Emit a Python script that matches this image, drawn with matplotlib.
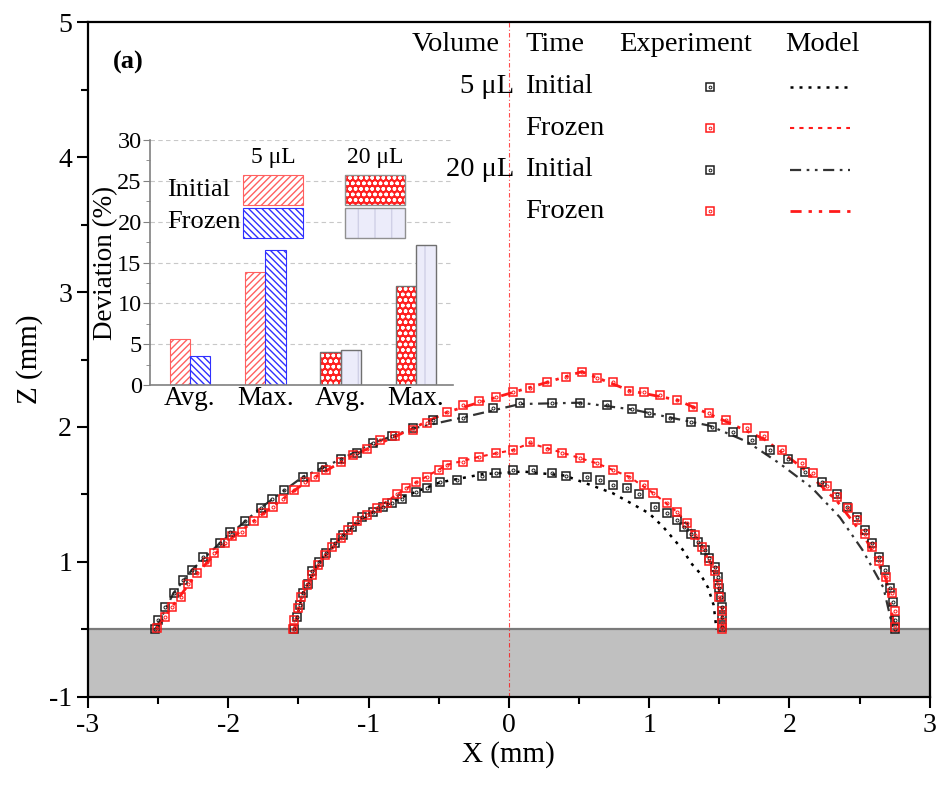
"""
Droplet profiles (experiment vs model) with deviation inset.
"""

import matplotlib.pyplot as plt
from matplotlib.patches import Rectangle

plt.rcParams['font.family'] = ['Liberation Serif', 'DejaVu Serif']
plt.rcParams['axes.unicode_minus'] = False

# colours
RED = '#ff1a1a'
DARK = '#1e1e1e'
GREY_SUB = '#c0c0c0'

# ---- experiment: 5 uL initial ----
e5i_x = [-1.53, -1.51, -1.49, -1.47, -1.43, -1.40, -1.35, -1.30, -1.24, -1.18, -1.12,
         -1.05, -0.97, -0.90, -0.83, -0.76, -0.66, -0.58, -0.49, -0.37, -0.19, -0.09,
         0.03, 0.17, 0.31, 0.41, 0.56, 0.65, 0.74, 0.84, 0.93, 1.04, 1.13, 1.20, 1.25,
         1.30, 1.35, 1.40, 1.43, 1.47, 1.49, 1.50, 1.51, 1.52, 1.52, 1.52]
e5i_z = [0.50, 0.59, 0.68, 0.77, 0.84, 0.93, 1.00, 1.07, 1.14, 1.20, 1.26,
         1.33, 1.37, 1.41, 1.44, 1.47, 1.52, 1.55, 1.59, 1.61, 1.64, 1.66,
         1.68, 1.68, 1.66, 1.64, 1.63, 1.61, 1.57, 1.55, 1.50, 1.41, 1.36, 1.31, 1.26,
         1.21, 1.15, 1.09, 1.03, 0.96, 0.89, 0.81, 0.74, 0.67, 0.59, 0.52]

# ---- experiment: 5 uL frozen ----
e5f_x = [-1.54, -1.53, -1.50, -1.48, -1.44, -1.40, -1.36, -1.31, -1.26, -1.20, -1.15,
         -1.08, -1.01, -0.94, -0.87, -0.80, -0.73, -0.66, -0.58, -0.50, -0.44, -0.33,
         -0.21, -0.09, 0.03, 0.15, 0.27, 0.38, 0.51, 0.63, 0.74, 0.86, 0.96, 1.03,
         1.13, 1.20, 1.27, 1.33, 1.38, 1.43, 1.47, 1.49, 1.50, 1.52, 1.52, 1.52]
e5f_z = [0.50, 0.57, 0.66, 0.74, 0.83, 0.90, 0.98, 1.05, 1.11, 1.18, 1.24,
         1.30, 1.35, 1.40, 1.44, 1.50, 1.55, 1.59, 1.63, 1.68, 1.72, 1.74,
         1.78, 1.81, 1.83, 1.89, 1.84, 1.81, 1.77, 1.73, 1.68, 1.63, 1.57, 1.51,
         1.44, 1.37, 1.29, 1.20, 1.11, 1.01, 0.93, 0.84, 0.74, 0.64, 0.55, 0.50]

# ---- experiment: 20 uL initial ----
e20i_x = [-2.52, -2.50, -2.45, -2.39, -2.32, -2.26, -2.18, -2.06, -1.99, -1.88, -1.77,
          -1.69, -1.60, -1.47, -1.33, -1.20, -1.08, -0.97, -0.83, -0.68, -0.54, -0.33,
          -0.11, 0.08, 0.31, 0.51, 0.70, 0.88, 1.00, 1.15, 1.30, 1.45, 1.60, 1.73,
          1.86, 1.99, 2.11, 2.23, 2.34, 2.41, 2.48, 2.54, 2.59, 2.64, 2.68, 2.72,
          2.74, 2.75, 2.75]
e20i_z = [0.50, 0.57, 0.67, 0.77, 0.87, 0.94, 1.04, 1.14, 1.22, 1.30, 1.40,
          1.47, 1.53, 1.63, 1.70, 1.76, 1.81, 1.88, 1.93, 1.99, 2.05, 2.07,
          2.14, 2.18, 2.18, 2.18, 2.16, 2.13, 2.10, 2.07, 2.04, 2.00, 1.96, 1.90,
          1.83, 1.76, 1.67, 1.59, 1.50, 1.41, 1.33, 1.24, 1.14, 1.04, 0.94, 0.81,
          0.70, 0.57, 0.50]

# ---- experiment: 20 uL frozen ----
e20f_x = [-2.51, -2.45, -2.40, -2.34, -2.29, -2.22, -2.15, -2.10, -2.02, -1.97, -1.90,
          -1.82, -1.75, -1.68, -1.61, -1.53, -1.45, -1.38, -1.30, -1.20, -1.11, -1.01,
          -0.92, -0.81, -0.68, -0.58, -0.44, -0.33, -0.21, -0.09, 0.03, 0.15, 0.27,
          0.41, 0.52, 0.63, 0.74, 0.86, 0.96, 1.08, 1.20, 1.31, 1.43, 1.55, 1.70,
          1.82, 1.95, 2.09, 2.17, 2.27, 2.34, 2.42, 2.48, 2.54, 2.59, 2.64, 2.69,
          2.73, 2.75, 2.75]
e20f_z = [0.51, 0.59, 0.67, 0.74, 0.84, 0.92, 1.00, 1.07, 1.14, 1.19, 1.22,
          1.30, 1.36, 1.41, 1.47, 1.53, 1.59, 1.63, 1.68, 1.74, 1.79, 1.84,
          1.90, 1.93, 1.98, 2.03, 2.11, 2.16, 2.19, 2.22, 2.26, 2.29, 2.33,
          2.37, 2.41, 2.36, 2.33, 2.27, 2.26, 2.24, 2.20, 2.15, 2.10, 2.05, 1.99,
          1.93, 1.83, 1.73, 1.66, 1.56, 1.48, 1.40, 1.31, 1.21, 1.11, 1.01, 0.89,
          0.77, 0.64, 0.52]

# ---- model profiles ----
m5i_x = [-1.53, -1.47, -1.35, -1.18, -0.97, -0.76, -0.49, -0.19, 0.10, 0.40, 0.74,
         0.88, 1.00, 1.10, 1.24, 1.30, 1.36, 1.42, 1.46, 1.48]
m5i_z = [0.50, 0.77, 1.00, 1.20, 1.37, 1.48, 1.59, 1.65, 1.67, 1.64, 1.51,
         1.43, 1.36, 1.26, 1.09, 0.99, 0.92, 0.81, 0.68, 0.50]

m5f_x = [-1.53, -1.48, -1.40, -1.31, -1.20, -1.08, -0.94, -0.80, -0.66, -0.44, -0.21,
         0.03, 0.15, 0.38, 0.63, 0.86, 1.03, 1.20, 1.33, 1.43, 1.49, 1.52, 1.52]
m5f_z = [0.50, 0.74, 0.90, 1.05, 1.18, 1.30, 1.40, 1.50, 1.59, 1.72, 1.78,
         1.83, 1.88, 1.81, 1.73, 1.63, 1.51, 1.37, 1.20, 1.01, 0.84, 0.64, 0.50]

m20i_x = [-2.52, -2.39, -2.26, -2.06, -1.77, -1.47, -1.20, -0.97, -0.68, -0.33, 0.08,
          0.51, 0.88, 1.15, 1.43, 1.70, 1.93, 2.16, 2.36, 2.52, 2.67, 2.74]
m20i_z = [0.50, 0.77, 0.94, 1.14, 1.40, 1.63, 1.76, 1.88, 1.99, 2.07, 2.17,
          2.18, 2.13, 2.07, 2.01, 1.89, 1.73, 1.55, 1.33, 1.09, 0.81, 0.50]

m20f_x = [-2.51, -2.40, -2.22, -2.02, -1.75, -1.45, -1.11, -0.81, -0.44, -0.09, 0.27,
          0.52, 0.86, 1.20, 1.55, 1.82, 2.09, 2.34, 2.54, 2.69, 2.75]
m20f_z = [0.51, 0.67, 0.92, 1.14, 1.36, 1.59, 1.79, 1.93, 2.11, 2.22, 2.33,
          2.41, 2.27, 2.20, 2.04, 1.91, 1.70, 1.45, 1.18, 0.87, 0.50]

# ---- inset: deviation (%) ----
dev_groups = ['Avg.', 'Max.', 'Avg.', 'Max.']
dev_initial = [5.6, 13.8, 4.0, 12.1]
dev_frozen = [3.5, 16.5, 4.3, 17.2]

y_ticks = [0, 1, 2, 3, 4, 5]
y_ticklabels = ['-1', '1', '2', '3', '4', '5']

fig = plt.figure(figsize=(9.41, 7.87), dpi=100)
ax = fig.add_axes([0.0935, 0.1144, 0.8945, 0.8576])

# substrate
ax.axhspan(0, 0.5, color=GREY_SUB, zorder=0)
ax.axhline(0.5, color='#7a7a7a', lw=1.6, zorder=1)
# symmetry axis
ax.axvline(0, color='red', lw=0.8, ls=(0, (4, 2, 1, 2)), alpha=0.7, zorder=1)

ls_5i = (0, (1.2, 2.4))
ls_5f = (0, (2, 2.5))
ls_20i = (0, (5, 2.5, 1.2, 2.5, 1.2, 2.5))
ls_20f = (0, (4, 2.5, 1.2, 2.5, 1.2, 2.5))

ax.plot(m5i_x, m5i_z, color='black', lw=1.8, ls=ls_5i, zorder=2)
ax.plot(m5f_x, m5f_z, color=RED, lw=1.5, ls=ls_5f, zorder=2)
ax.plot(m20i_x, m20i_z, color='#333333', lw=1.6, ls=ls_20i, zorder=2)
ax.plot(m20f_x, m20f_z, color=RED, lw=2.0, ls=ls_20f, zorder=2)

mk = dict(ls='none', marker='s', ms=5.8, mfc='none', mew=1.1, zorder=3)
ax.plot(e5i_x, e5i_z, mec=DARK, **mk)
ax.plot(e20i_x, e20i_z, mec=DARK, **mk)
ax.plot(e5f_x, e5f_z, mec=RED, **mk)
ax.plot(e20f_x, e20f_z, mec=RED, **mk)
dot = dict(ls='none', marker='o', ms=2.2, mfc='none', mew=0.7, zorder=3)
ax.plot(e5i_x, e5i_z, mec=DARK, **dot)
ax.plot(e20i_x, e20i_z, mec=DARK, **dot)
ax.plot(e5f_x, e5f_z, mec=RED, **dot)
ax.plot(e20f_x, e20f_z, mec=RED, **dot)

ax.set_xlim(-3, 3)
ax.set_ylim(0, 5)
ax.set_xticks(range(-3, 4))
ax.set_xticks([v + 0.5 for v in range(-3, 3)], minor=True)
ax.set_yticks(y_ticks)
ax.set_yticklabels(y_ticklabels)
ax.set_yticks([v + 0.5 for v in range(0, 5)], minor=True)
ax.tick_params(which='both', direction='out', labelsize=20, width=1.5)
ax.tick_params(which='major', length=8)
ax.tick_params(which='minor', length=5)
for sp in ax.spines.values():
    sp.set_linewidth(1.6)
ax.set_xlabel('X (mm)', fontsize=21, labelpad=2)
ax.set_ylabel('Z (mm)', fontsize=21, labelpad=4)

ax.text(0.03, 0.94, '(a)', transform=ax.transAxes, fontsize=19,
        fontweight='bold', va='center')

# legend table
tr = ax.transAxes
fs = 20.5
ax.text(0.437, 0.966, 'Volume', transform=tr, fontsize=fs, ha='center', va='center')
ax.text(0.555, 0.966, 'Time', transform=tr, fontsize=fs, ha='center', va='center')
ax.text(0.710, 0.966, 'Experiment', transform=tr, fontsize=fs, ha='center', va='center')
ax.text(0.873, 0.966, 'Model', transform=tr, fontsize=fs, ha='center', va='center')
rows = [
    ('5 μL', 'Initial', DARK, 'black', ls_5i, 1.8),
    ('', 'Frozen', RED, RED, ls_5f, 1.5),
    ('20 μL', 'Initial', DARK, '#333333', ls_20i, 1.6),
    ('', 'Frozen', RED, RED, ls_20f, 2.0),
]
row_y = [0.904, 0.843, 0.781, 0.720]
for (vol, tm, mc, lc, ls, lw), yy in zip(rows, row_y):
    if vol:
        ax.text(0.506, yy, vol, transform=tr, fontsize=fs, ha='right', va='center')
    ax.text(0.519, yy, tm, transform=tr, fontsize=fs, ha='left', va='center')
    ax.plot([0.739], [yy], transform=tr, marker='s', ms=5.5, mfc='none',
            mec=mc, mew=1.1, clip_on=False)
    ax.plot([0.739], [yy], transform=tr, marker='o', ms=2, mfc='none',
            mec=mc, mew=0.7, clip_on=False)
    ax.plot([0.834, 0.905], [yy, yy], transform=tr, color=lc, ls=ls, lw=lw)

# ---- inset bar chart ----
ins = fig.add_axes([0.1594, 0.5108, 0.322, 0.3113])
pos = list(range(len(dev_groups)))
w = 0.27
ins.set_axisbelow(True)
ins.yaxis.grid(True, ls=(0, (4, 3)), color='#c8c8c8', lw=0.8)

x_i = [p - w / 2 for p in pos]
x_f = [p + w / 2 for p in pos]
# 5 uL
ins.bar(x_i[:2], dev_initial[:2], w, color='white', edgecolor='#ff6060',
        hatch='/////', lw=0.8)
ins.bar(x_f[:2], dev_frozen[:2], w, color='white', edgecolor='#3030ff',
        hatch='\\\\\\\\\\', lw=0.8)
# 20 uL
ins.bar(x_i[2:], dev_initial[2:], w, color='#ff2020', edgecolor='white',
        hatch='ooo', lw=0)
ins.bar(x_i[2:], dev_initial[2:], w, color='none', edgecolor='#707070', lw=1.0)
ins.bar(x_f[2:], dev_frozen[2:], w, color='#ececfa', edgecolor='#d0d0e6',
        hatch='|', lw=0)
ins.bar(x_f[2:], dev_frozen[2:], w, color='none', edgecolor='#707070', lw=1.0)

ins.set_xlim(-0.53, 3.49)
ins.set_ylim(0, 30)
ins.set_yticks(range(0, 31, 5))
ins.set_yticks([v + 2.5 for v in range(0, 30, 5)], minor=True)
ins.set_xticks(pos)
ins.set_xticklabels(dev_groups)
ins.tick_params(axis='x', length=0, labelsize=19.5, pad=1)
ins.tick_params(axis='y', which='both', direction='out', labelsize=17.5,
                color='#808080', pad=1)
ins.tick_params(axis='y', which='major', length=5)
ins.tick_params(axis='y', which='minor', length=3)
for s in ('top', 'right'):
    ins.spines[s].set_visible(False)
for s in ('left', 'bottom'):
    ins.spines[s].set_color('#808080')
    ins.spines[s].set_linewidth(1.2)
ins.patch.set_alpha(0)
ins.set_ylabel('Deviation (%)', fontsize=19.5, labelpad=-1)

# inset legend
itr = ins.transAxes
ins.text(0.406, 0.927, '5 μL', transform=itr, fontsize=17, ha='center', va='center')
ins.text(0.743, 0.927, '20 μL', transform=itr, fontsize=17, ha='center', va='center')
ins.text(0.056, 0.796, 'Initial', transform=itr, fontsize=19, ha='left', va='center')
ins.text(0.056, 0.665, 'Frozen', transform=itr, fontsize=19, ha='left', va='center')
pw, ph = 0.198, 0.122
ins.add_patch(Rectangle((0.307, 0.735), pw, ph, transform=itr, facecolor='white',
                        edgecolor='#ff6060', hatch='/////', lw=0.8))
ins.add_patch(Rectangle((0.307, 0.600), pw, ph, transform=itr, facecolor='white',
                        edgecolor='#3030ff', hatch='\\\\\\\\\\', lw=0.8))
ins.add_patch(Rectangle((0.644, 0.735), pw, ph, transform=itr, facecolor='#ff2020',
                        edgecolor='white', hatch='ooo', lw=0))
ins.add_patch(Rectangle((0.644, 0.735), pw, ph, transform=itr, facecolor='none',
                        edgecolor='#909090', lw=1.0))
ins.add_patch(Rectangle((0.644, 0.600), pw, ph, transform=itr, facecolor='#ececfa',
                        edgecolor='#d0d0e6', hatch='|', lw=0))
ins.add_patch(Rectangle((0.644, 0.600), pw, ph, transform=itr, facecolor='none',
                        edgecolor='#909090', lw=1.0))

plt.savefig('out.png', dpi=100)
